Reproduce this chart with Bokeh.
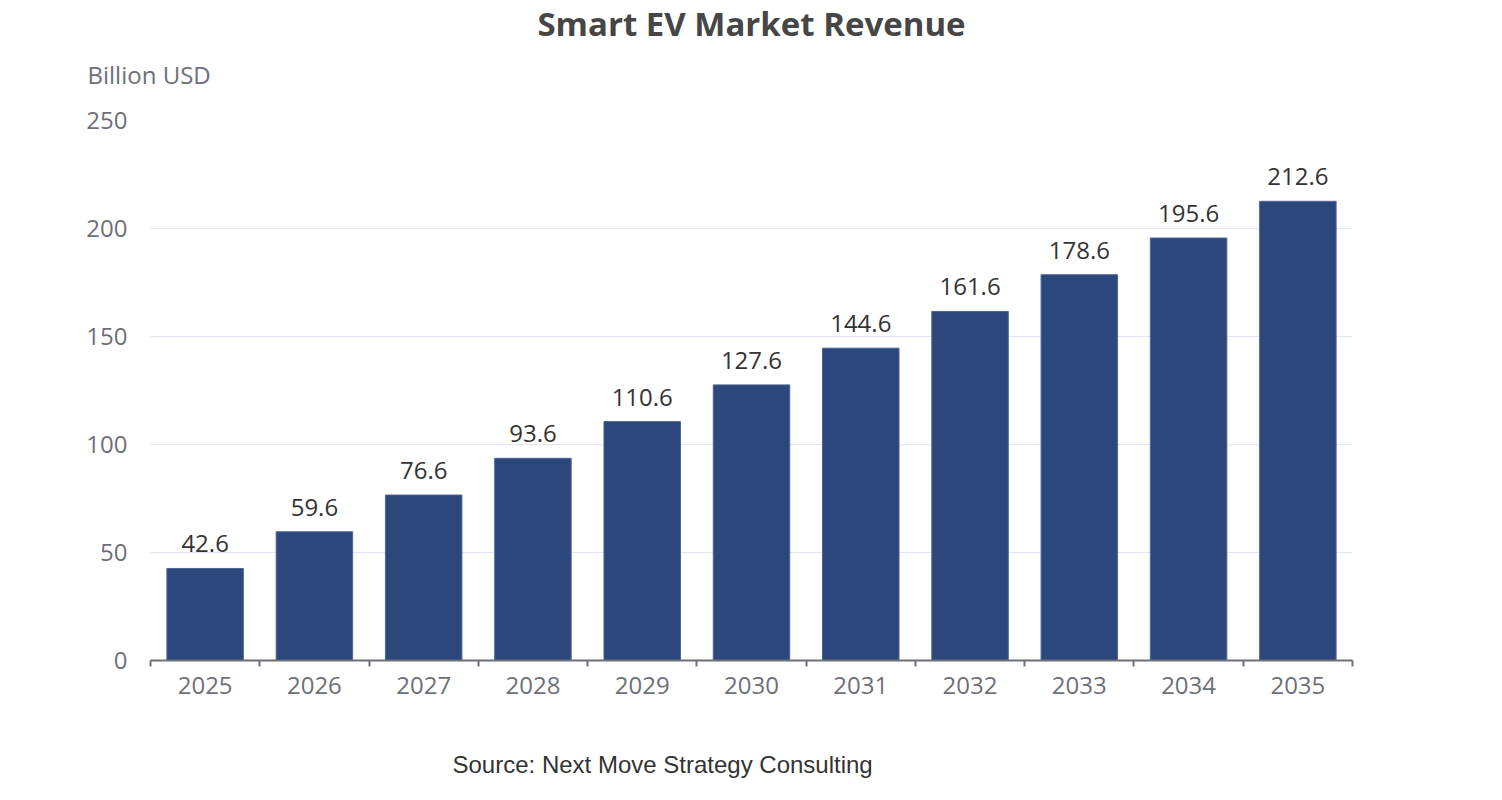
from bokeh.plotting import figure
from bokeh.models import ColumnDataSource, Range1d, FixedTicker, LabelSet, Title
from bokeh.core.properties import value
from bokeh.embed import file_html
from bokeh.resources import INLINE

years = ["2025", "2026", "2027", "2028", "2029", "2030", "2031", "2032", "2033", "2034", "2035"]
revenue = [42.6, 59.6, 76.6, 93.6, 110.6, 127.6, 144.6, 161.6, 178.6, 195.6, 212.6]
y_ticks = [0, 50, 100, 150, 200, 250]

title_text = "Smart EV Market Revenue"
y_name = "Billion USD"
source_text = "Source: Next Move Strategy Consulting"

FONT = "Open Sans"

pos = [i + 0.5 for i in range(len(years))]
src = ColumnDataSource(dict(x=pos, top=revenue, lbl=[f"{v:.1f}" for v in revenue]))

W, H = 1494, 792
p = figure(width=W, height=H, output_backend="svg", toolbar_location=None,
           x_range=Range1d(0, len(years)), y_range=Range1d(0, 250),
           min_border_left=150, min_border_right=142, min_border_top=120, min_border_bottom=132)
p.outline_line_color = None
p.background_fill_color = "white"
p.border_fill_color = "white"

p.vbar(x="x", top="top", width=0.7, source=src, fill_color="#2c477b", line_color="#4d6596", line_width=1)

labels = LabelSet(x="x", y="top", text="lbl", source=src, text_align="center", text_baseline="alphabetic",
                  y_offset=16, text_font=value(FONT), text_font_size="24px", text_color="#333333")
p.add_layout(labels)

# x axis
xa = p.xaxis[0]
xa.ticker = FixedTicker(ticks=pos, minor_ticks=list(range(len(years) + 1)))
xa.major_label_overrides = {p_: y for p_, y in zip(pos, years)}
xa.major_tick_out = 0
xa.major_tick_in = 0
xa.minor_tick_out = 6
xa.minor_tick_in = 0
xa.minor_tick_line_color = "#6e7079"
xa.minor_tick_line_width = 2
xa.axis_line_color = "#6e7079"
xa.axis_line_width = 2
xa.major_label_text_font = FONT
xa.major_label_text_font_size = "24px"
xa.major_label_text_color = "#6e7079"
xa.major_label_standoff = 10

# y axis
ya = p.yaxis[0]
ya.ticker = FixedTicker(ticks=y_ticks)
ya.axis_line_color = None
ya.major_tick_line_color = None
ya.minor_tick_line_color = None
ya.major_label_text_font = FONT
ya.major_label_text_font_size = "24px"
ya.major_label_text_color = "#6e7079"
ya.major_label_standoff = 17

p.xgrid.grid_line_color = None
p.ygrid.ticker = FixedTicker(ticks=y_ticks)
p.ygrid.grid_line_color = "#e0e6f1"
p.ygrid.grid_line_width = 1

p.add_layout(Title(text=y_name, align="left", offset=-63, standoff=59, text_font=FONT,
                   text_font_size="24px", text_font_style="normal", text_color="#6e7079"), "above")
p.add_layout(Title(text=title_text, align="center", standoff=-39, text_font=FONT,
                   text_font_size="33px", text_font_style="bold", text_color="#464646"), "above")
# spacer between the x axis and the source note
p.add_layout(Title(text=" ", align="left", standoff=49, text_font="Liberation Sans",
                   text_font_size="1px", text_color="white"), "below")
p.add_layout(Title(text=source_text, align="left", offset=302, standoff=0, text_font="Liberation Sans",
                   text_font_size="24px", text_font_style="normal", text_color="#333333"), "below")

open("out.html", "w").write(file_html(p, INLINE))
